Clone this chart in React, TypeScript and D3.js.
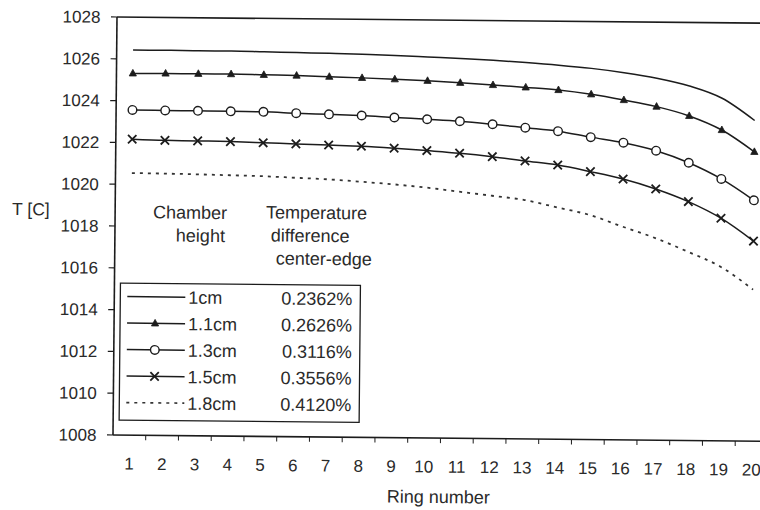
import React from "react";
import * as d3 from "d3";

// Ring numbers (categories)
const rings = [1, 2, 3, 4, 5, 6, 7, 8, 9, 10, 11, 12, 13, 14, 15, 16, 17, 18, 19, 20];

// Temperature T [C] per ring, one array per chamber height
const t1cm = [1026.43, 1026.43, 1026.42, 1026.42, 1026.40, 1026.38, 1026.36, 1026.33, 1026.29, 1026.23,
  1026.17, 1026.10, 1026.01, 1025.90, 1025.76, 1025.57, 1025.32, 1024.96, 1024.39, 1023.34];
const t11cm = [1025.31, 1025.32, 1025.32, 1025.32, 1025.30, 1025.28, 1025.24, 1025.20, 1025.15, 1025.09,
  1025.01, 1024.92, 1024.82, 1024.71, 1024.52, 1024.26, 1023.96, 1023.53, 1022.87, 1021.84];
const t13cm = [1023.56, 1023.55, 1023.55, 1023.54, 1023.53, 1023.48, 1023.44, 1023.40, 1023.32, 1023.25,
  1023.17, 1023.04, 1022.89, 1022.74, 1022.47, 1022.22, 1021.85, 1021.29, 1020.53, 1019.52];
const t15cm = [1022.16, 1022.12, 1022.11, 1022.09, 1022.05, 1022.01, 1021.97, 1021.93, 1021.85, 1021.75,
  1021.64, 1021.49, 1021.30, 1021.12, 1020.82, 1020.48, 1020.02, 1019.43, 1018.65, 1017.57];
const t18cm = [1020.54, 1020.53, 1020.51, 1020.48, 1020.45, 1020.39, 1020.33, 1020.23, 1020.12, 1019.98,
  1019.80, 1019.62, 1019.43, 1019.09, 1018.74, 1018.20, 1017.67, 1017.03, 1016.33, 1015.25];

const seriesNames = ["1cm", "1.1cm", "1.3cm", "1.5cm", "1.8cm"];
const seriesDiffs = ["0.2362%", "0.2626%", "0.3116%", "0.3556%", "0.4120%"];
const seriesMarkers = ["none", "triangle", "circle", "cross", "none"];
const seriesDashed = [false, false, false, false, true];
const seriesValues = [t1cm, t11cm, t13cm, t15cm, t18cm];

const yTicks = [1008, 1010, 1012, 1014, 1016, 1018, 1020, 1022, 1024, 1026, 1028];

const FONT = "'Liberation Sans', Arial, sans-serif";
const INK = "#1c1c1c";
const TXT = "#2a2a2a";

const left = 117, top = 17, bottom = 435, band = 32.75;

function Marker({ kind, cx, cy }: { kind: string; cx: number; cy: number }) {
  if (kind === "triangle") {
    return <path d={`M${cx},${cy - 4} L${cx + 3.6},${cy + 2.6} L${cx - 3.6},${cy + 2.6} Z`} fill={INK} stroke={INK} strokeWidth={0.8} />;
  }
  if (kind === "circle") {
    return <circle cx={cx} cy={cy} r={4.3} fill="#fff" stroke={INK} strokeWidth={1.4} />;
  }
  if (kind === "cross") {
    return (
      <path d={`M${cx - 4.2},${cy - 4.2} L${cx + 4.2},${cy + 4.2} M${cx - 4.2},${cy + 4.2} L${cx + 4.2},${cy - 4.2}`}
        stroke={INK} strokeWidth={1.8} fill="none" />
    );
  }
  return null;
}

export default function App() {
  const x = d3.scaleBand<string>().domain(rings.map(String)).range([left, left + rings.length * band]);
  const y = d3.scaleLinear().domain([1008, 1028]).range([bottom, top]);
  const cx = (r: number) => (x(String(r)) as number) + x.bandwidth() / 2;
  const line = d3.line<number>()
    .x((_, i) => cx(rings[i]))
    .y((v) => y(v))
    .curve(d3.curveMonotoneX);

  const xRight = left + rings.length * band;
  const legX = 123, legY = 283, legW = 240, legH = 137;
  const rowY = (i: number) => 296.5 + i * 26.5;

  return (
    <svg width={760} height={510} style={{ position: "absolute", left: 0, top: 0, background: "#fff" }}
      fontFamily={FONT}>
      <rect x={0} y={0} width={760} height={510} fill="#fff" />
      <g transform={`rotate(0.55, ${left}, ${top})`}>
        {/* plot border */}
        <line x1={left} x2={xRight} y1={top} y2={top} stroke={INK} strokeWidth={1.6} />
        <line x1={left} x2={left} y1={top} y2={bottom} stroke={INK} strokeWidth={1.6} />
        <line x1={left} x2={xRight} y1={bottom} y2={bottom} stroke={INK} strokeWidth={1.6} />

        {/* y ticks */}
        {yTicks.map((t) => (
          <g key={t}>
            <line x1={left - 6} x2={left} y1={y(t)} y2={y(t)} stroke={INK} strokeWidth={1.2} />
            <text x={100.5} y={y(t)} dy="0.35em" textAnchor="end" fontSize={17} fill={TXT}>{t}</text>
          </g>
        ))}
        <text x={14} y={216} fontSize={17.5} fill={TXT}>T [C]</text>

        {/* x ticks */}
        {rings.map((r) => (
          <line key={"t" + r} x1={(x(String(r)) as number) + band} x2={(x(String(r)) as number) + band}
            y1={bottom} y2={bottom + 5} stroke={INK} strokeWidth={1} />
        ))}
        {rings.map((r) => (
          <text key={"l" + r} x={cx(r)} y={469.5} textAnchor="middle" fontSize={17} fill={TXT}>{r}</text>
        ))}
        <text x={443} y={500} textAnchor="middle" fontSize={18} fill={TXT}>Ring number</text>

        {/* series */}
        {seriesValues.map((vals, si) => (
          <g key={seriesNames[si]}>
            <path d={line(vals) || ""} fill="none" stroke={seriesDashed[si] ? "#333" : INK}
              strokeWidth={seriesDashed[si] ? 1.8 : 1.5}
              strokeDasharray={seriesDashed[si] ? "3,5" : undefined} />
            {seriesMarkers[si] !== "none" && vals.map((v, i) => (
              <Marker key={i} kind={seriesMarkers[si]} cx={cx(rings[i])} cy={y(v)} />
            ))}
          </g>
        ))}

        {/* annotation headers */}
        <text x={155} y={218} fontSize={18} fill={TXT}>Chamber</text>
        <text x={178} y={241} fontSize={18} fill={TXT}>height</text>
        <text x={268} y={217} fontSize={18} fill={TXT}>Temperature</text>
        <text x={273} y={240} fontSize={18} fill={TXT}>difference</text>
        <text x={278} y={263} fontSize={18} fill={TXT}>center-edge</text>

        {/* legend */}
        <rect x={legX} y={legY} width={legW} height={legH} fill="#fff" stroke={INK} strokeWidth={1.3} />
        {seriesNames.map((name, i) => (
          <g key={"lg" + name}>
            <line x1={130} x2={188} y1={rowY(i)} y2={rowY(i)} stroke={seriesDashed[i] ? "#333" : INK}
              strokeWidth={seriesDashed[i] ? 1.6 : 1.5} strokeDasharray={seriesDashed[i] ? "3,5" : undefined} />
            <Marker kind={seriesMarkers[i]} cx={158} cy={rowY(i)} />
            <text x={191} y={rowY(i)} dy="0.36em" fontSize={18} fill={TXT}>{name}</text>
            <text x={355} y={rowY(i)} dy="0.36em" textAnchor="end" fontSize={18} fill={TXT}>{seriesDiffs[i]}</text>
          </g>
        ))}
      </g>
    </svg>
  );
}
